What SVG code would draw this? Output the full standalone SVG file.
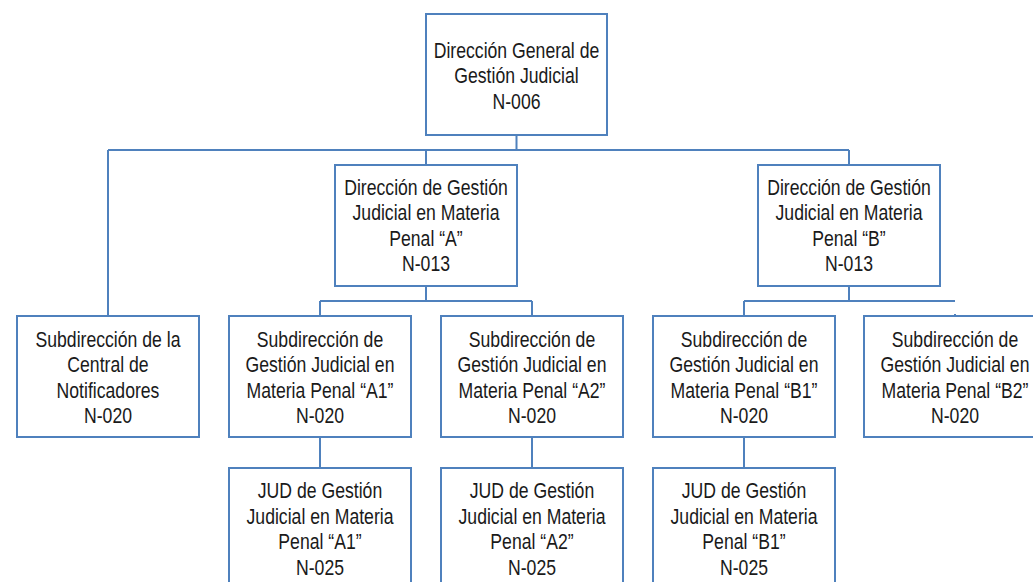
<svg xmlns="http://www.w3.org/2000/svg" width="1033" height="582" viewBox="0 0 1033 582">
<style>
.box{fill:#ffffff;stroke:#4f81bd;stroke-width:2}
.c{fill:none;stroke:#4f81bd;stroke-width:2}
.t{font-family:"Liberation Sans",Arial,sans-serif;font-size:21.5px;fill:#1a1a1a;text-anchor:middle}
</style>
<rect width="1033" height="582" fill="#ffffff"/>
<g id="connectors">
<path class="c" d="M516.5 135V150M108 150H849M108 150V316M426 150V165M849 150V165"/>
<path class="c" d="M426 286V301M320 301H532M320 301V316M532 301V316"/>
<path class="c" d="M849 286V301M744 301H955M744 301V316M955 314V327"/>
<path class="c" d="M320 437V468M532 437V468M744 437V468"/>
</g>
<g id="n006">
<rect class="box" x="426" y="14" width="181" height="121"/>
<text class="t" transform="translate(516.5 0) scale(0.82 1)"><tspan x="0" y="58">Dirección General de</tspan><tspan x="0" y="83.5">Gestión Judicial</tspan><tspan x="0" y="109">N-006</tspan></text>
</g>
<g id="dirA">
<rect class="box" x="335" y="165" width="182" height="121"/>
<text class="t" transform="translate(426 0) scale(0.82 1)"><tspan x="0" y="195">Dirección de Gestión</tspan><tspan x="0" y="220.5">Judicial en Materia</tspan><tspan x="0" y="246">Penal “A”</tspan><tspan x="0" y="271.5">N-013</tspan></text>
</g>
<g id="dirB">
<rect class="box" x="758" y="165" width="182" height="121"/>
<text class="t" transform="translate(849 0) scale(0.82 1)"><tspan x="0" y="195">Dirección de Gestión</tspan><tspan x="0" y="220.5">Judicial en Materia</tspan><tspan x="0" y="246">Penal “B”</tspan><tspan x="0" y="271.5">N-013</tspan></text>
</g>
<g id="subNotif">
<rect class="box" x="17" y="316" width="182" height="121"/>
<text class="t" transform="translate(108 0) scale(0.82 1)"><tspan x="0" y="347">Subdirección de la</tspan><tspan x="0" y="372.5">Central de</tspan><tspan x="0" y="398">Notificadores</tspan><tspan x="0" y="423.5">N-020</tspan></text>
</g>
<g id="subA1">
<rect class="box" x="229" y="316" width="182" height="121"/>
<text class="t" transform="translate(320 0) scale(0.82 1)"><tspan x="0" y="347">Subdirección de</tspan><tspan x="0" y="372.5">Gestión Judicial en</tspan><tspan x="0" y="398">Materia Penal “A1”</tspan><tspan x="0" y="423.5">N-020</tspan></text>
</g>
<g id="subA2">
<rect class="box" x="441" y="316" width="182" height="121"/>
<text class="t" transform="translate(532 0) scale(0.82 1)"><tspan x="0" y="347">Subdirección de</tspan><tspan x="0" y="372.5">Gestión Judicial en</tspan><tspan x="0" y="398">Materia Penal “A2”</tspan><tspan x="0" y="423.5">N-020</tspan></text>
</g>
<g id="subB1">
<rect class="box" x="653" y="316" width="182" height="121"/>
<text class="t" transform="translate(744 0) scale(0.82 1)"><tspan x="0" y="347">Subdirección de</tspan><tspan x="0" y="372.5">Gestión Judicial en</tspan><tspan x="0" y="398">Materia Penal “B1”</tspan><tspan x="0" y="423.5">N-020</tspan></text>
</g>
<g id="subB2">
<rect class="box" x="864" y="316" width="182" height="121"/>
<text class="t" transform="translate(955 0) scale(0.82 1)"><tspan x="0" y="347">Subdirección de</tspan><tspan x="0" y="372.5">Gestión Judicial en</tspan><tspan x="0" y="398">Materia Penal “B2”</tspan><tspan x="0" y="423.5">N-020</tspan></text>
</g>
<g id="judA1">
<rect class="box" x="229" y="468" width="182" height="121"/>
<text class="t" transform="translate(320 0) scale(0.82 1)"><tspan x="0" y="498.5">JUD de Gestión</tspan><tspan x="0" y="524">Judicial en Materia</tspan><tspan x="0" y="549.5">Penal “A1”</tspan><tspan x="0" y="575">N-025</tspan></text>
</g>
<g id="judA2">
<rect class="box" x="441" y="468" width="182" height="121"/>
<text class="t" transform="translate(532 0) scale(0.82 1)"><tspan x="0" y="498.5">JUD de Gestión</tspan><tspan x="0" y="524">Judicial en Materia</tspan><tspan x="0" y="549.5">Penal “A2”</tspan><tspan x="0" y="575">N-025</tspan></text>
</g>
<g id="judB1">
<rect class="box" x="653" y="468" width="182" height="121"/>
<text class="t" transform="translate(744 0) scale(0.82 1)"><tspan x="0" y="498.5">JUD de Gestión</tspan><tspan x="0" y="524">Judicial en Materia</tspan><tspan x="0" y="549.5">Penal “B1”</tspan><tspan x="0" y="575">N-025</tspan></text>
</g>
</svg>
